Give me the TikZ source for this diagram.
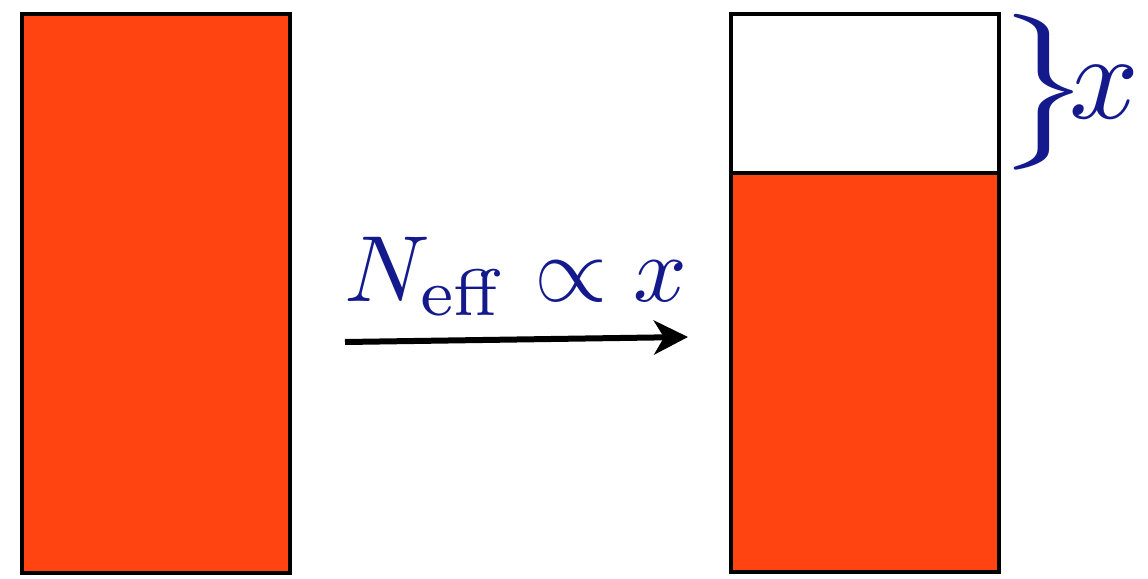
\documentclass[tikz,border=0pt]{standalone}
\usepackage{graphicx}
\usetikzlibrary{arrows.meta}
\definecolor{fillred}{RGB}{255,68,17}
\definecolor{labelblue}{RGB}{20,26,140}
\begin{document}
\begin{tikzpicture}[x=0.5pt,y=-0.5pt,line width=2pt]
    \useasboundingbox (0,0) rectangle (1148,579);
    \tikzset{box/.style={draw=black,fill=fillred},
             lbl/.style={text=labelblue,inner sep=0pt}}
    % boxes
    \draw[box] (22,14) rectangle (290,573);
    \draw[box] (731,173) rectangle (999,572);
    \draw[draw=black,fill=white] (731,14) rectangle (999,173);
    % arrow
    \coordinate (start) at (345,342);
    \coordinate (stop)  at (688,337);
    \draw[line width=3pt,-{Stealth[length=17pt,width=17pt,inset=5pt]}] (start)--(stop);
    \node[lbl,anchor=base] (rate) at (516,301)
      {\scalebox{4.7}{$N_{\mathrm{eff}}\propto x$}};
    % brace over the empty part
    \node[lbl,anchor=west] (brace) at (993,92) {\scalebox{8.3}[6.5]{$\big\}$}};
    \node[lbl,anchor=west] (width) at (1067,92) {\scalebox{6.1}{$x$}};
  \end{tikzpicture}
\end{document}
